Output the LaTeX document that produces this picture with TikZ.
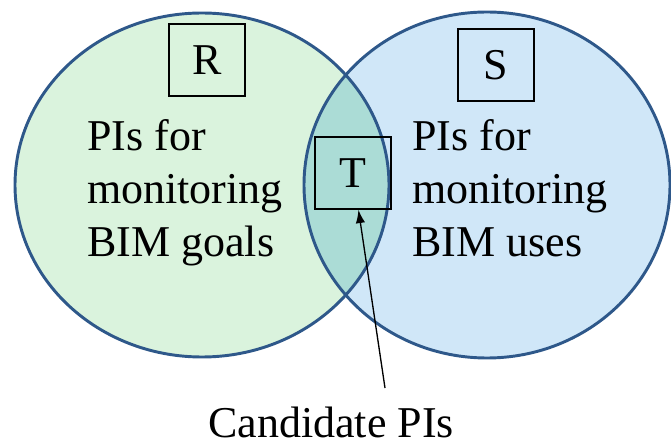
\documentclass[tikz,border=0pt]{standalone}
\usepackage{fontspec}
\setmainfont{Liberation Serif}
\newfontfamily\pifont{Liberation Serif}
\usetikzlibrary{arrows.meta, calc, positioning}

\definecolor{goalgreen}{RGB}{218,243,221}
\definecolor{useblue}{RGB}{208,231,248}
\definecolor{bothteal}{RGB}{171,220,214}
\definecolor{setblue}{RGB}{46,88,138}

\tikzset{
	setline/.style={draw=setblue, line width=2.2pt},
	pibox/.style={draw=black, line width=1.1pt, minimum width=57pt, minimum height=54pt, inner sep=0pt, font=\pifont\fontsize{33}{40}\selectfont},
	pitext/.style={align=left, inner sep=0pt, anchor=north west, font=\pifont\fontsize{33}{39.75}\selectfont}
}

\begin{document}
\begin{tikzpicture}[x=0.75pt, y=-0.75pt]
	\useasboundingbox (0,0) rectangle (671,445);

	% the two sets
	\fill[goalgreen] (202,185) ellipse [x radius=187, y radius=172];
	\fill[useblue] (487,185) ellipse [x radius=183, y radius=173];
	\begin{scope}
	\clip (202,185) ellipse [x radius=187, y radius=172];
	\fill[bothteal] (487,185) ellipse [x radius=183, y radius=173];
	\end{scope}
	\draw[setline] (202,185) ellipse [x radius=187, y radius=172];
	\draw[setline] (487,185) ellipse [x radius=183, y radius=173];

	% labels
	\node[pibox] (R) at (207,60) {R};
	\node[pibox] (S) at (496,65) {S};
	\node[pibox] (T) at (353,173) {T};

	\node[pitext] (goals) at (87,119) {PIs for\\monitoring\\BIM goals};
	\node[pitext] (uses) at (412,119) {PIs for\\monitoring\\BIM uses};

	\node[font=\pifont\fontsize{33}{40}\selectfont, anchor=base, inner sep=0pt, text depth=0pt] (cand) at (331,437) {Candidate PIs};
	\coordinate (tail) at (385,388);
	\draw[line width=1pt, -{Latex[length=10pt, width=7pt]}] (tail) -- (T);
\end{tikzpicture}
\end{document}
